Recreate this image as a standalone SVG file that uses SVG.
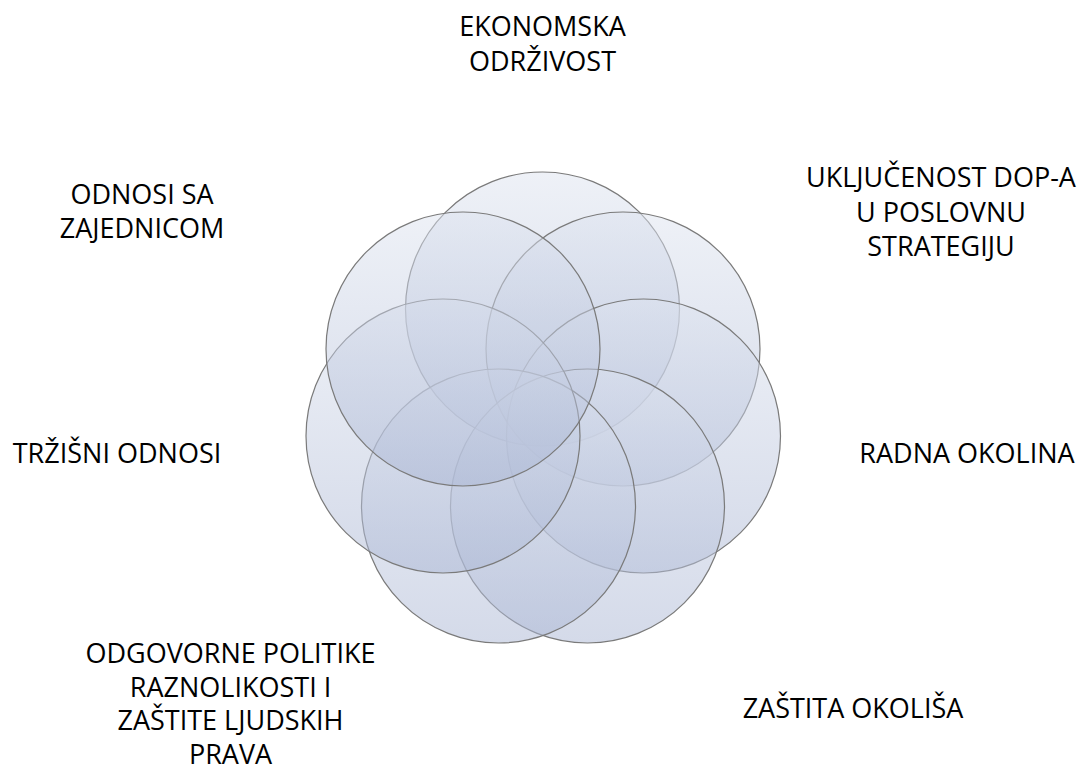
<svg xmlns="http://www.w3.org/2000/svg" width="1084" height="771" viewBox="0 0 1084 771">
<style>
.c{fill:url(#g);stroke:#7a7a7a;stroke-width:1.2}
.t{font-family:"Open Sans","Liberation Sans",sans-serif;font-size:27px;fill:#000;text-anchor:middle}
</style>
<defs>
<linearGradient id="g" x1="0" y1="0" x2="0" y2="1">
<stop offset="0" stop-color="#dde3ef" stop-opacity="0.5"/>
<stop offset="1" stop-color="#a9b5d3" stop-opacity="0.5"/>
</linearGradient>
</defs>
<rect width="1084" height="771" fill="#fff"/>
<g id="circles">
<g id="c1"><circle class="c" cx="542.5" cy="309" r="137"/></g>
<g id="c2"><circle class="c" cx="623" cy="349" r="137"/></g>
<g id="c3"><circle class="c" cx="643.5" cy="436" r="137"/></g>
<g id="c4"><circle class="c" cx="587.5" cy="506" r="137"/></g>
<g id="c5"><circle class="c" cx="498.5" cy="506" r="137"/></g>
<g id="c6"><circle class="c" cx="443" cy="436" r="137"/></g>
<g id="c7"><circle class="c" cx="463" cy="349" r="137"/></g>
</g>
<g id="connectors"></g>
<g id="l1"><text class="t" x="542.5" y="36">EKONOMSKA</text><text class="t" x="542.5" y="70.5">ODRŽIVOST</text></g>
<g id="l2"><text class="t" x="941" y="187">UKLJUČENOST DOP-A</text><text class="t" x="941" y="221.5">U POSLOVNU</text><text class="t" x="941" y="256">STRATEGIJU</text></g>
<g id="l3"><text class="t" x="967" y="462.5">RADNA OKOLINA</text></g>
<g id="l4"><text class="t" x="853" y="718">ZAŠTITA OKOLIŠA</text></g>
<g id="l5"><text class="t" x="230.5" y="663">ODGOVORNE POLITIKE</text><text class="t" x="230.5" y="696.5">RAZNOLIKOSTI I</text><text class="t" x="230.5" y="730">ZAŠTITE LJUDSKIH</text><text class="t" x="230.5" y="763.5">PRAVA</text></g>
<g id="l6"><text class="t" x="117" y="462.5">TRŽIŠNI ODNOSI</text></g>
<g id="l7"><text class="t" x="142" y="203.5">ODNOSI SA</text><text class="t" x="142" y="237.5">ZAJEDNICOM</text></g>
</svg>
